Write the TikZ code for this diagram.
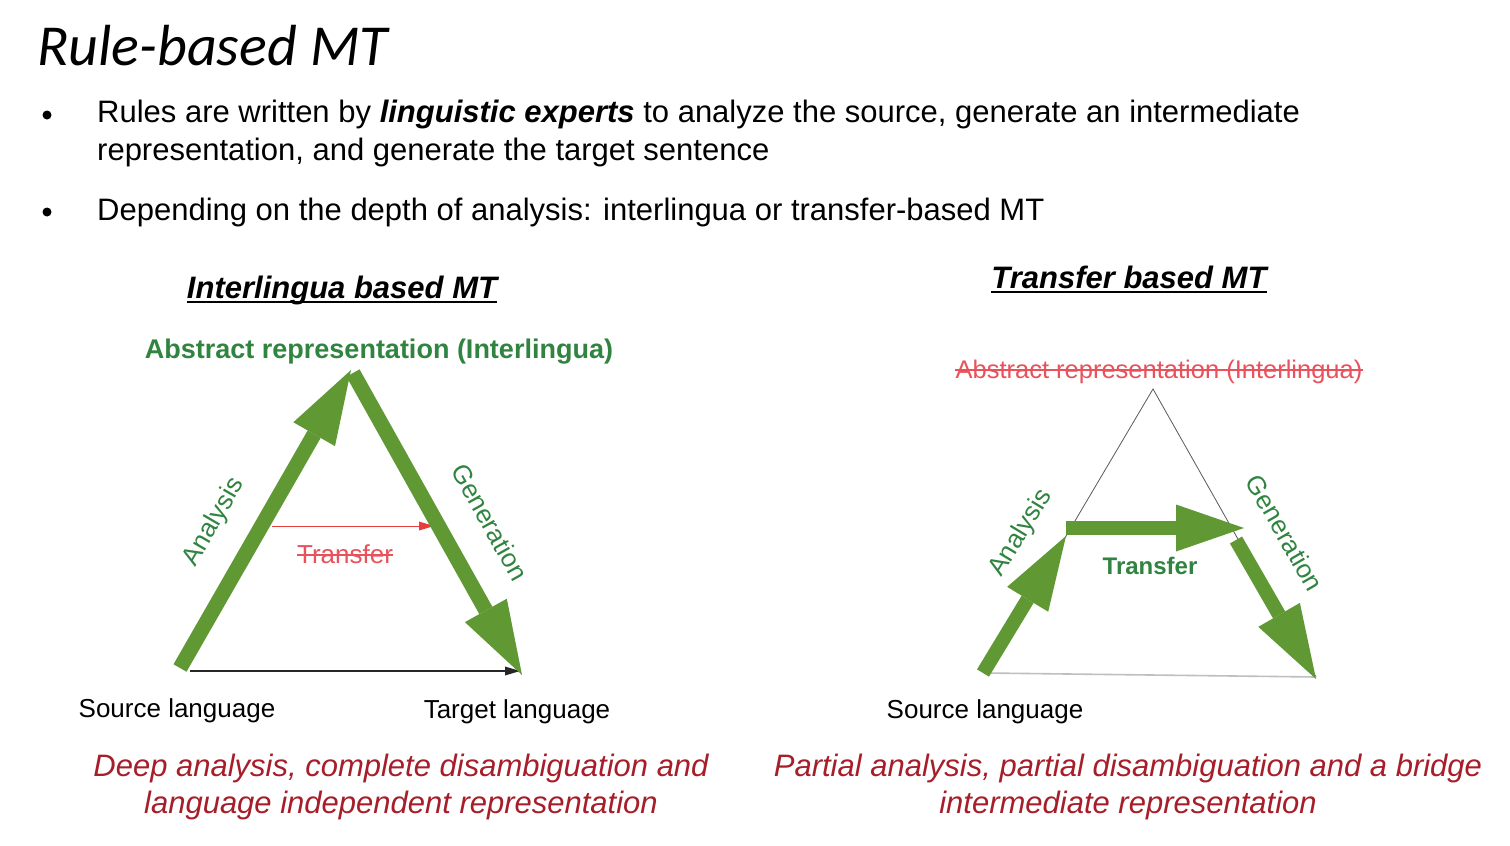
\documentclass[tikz,border=0pt]{standalone}
\usepackage{fontspec}
\setmainfont{Liberation Sans}
\newfontfamily\titlefont{Carlito}
\usetikzlibrary{arrows.meta, positioning, calc}

\definecolor{arrowgreen}{RGB}{96,152,52}
\definecolor{textgreen}{RGB}{48,132,64}
\definecolor{capred}{RGB}{166,30,42}
\definecolor{strikered}{RGB}{232,82,92}
\definecolor{arrowred}{RGB}{230,62,62}

\tikzset{
  txt/.style={inner sep=0pt, anchor=base},
  bigarrow/.style={draw=arrowgreen, line width=15pt,
    -{Triangle[width=48pt, length=74pt, line width=0pt]}},
  thinarrow/.style={line width=1.2pt, -{Triangle[width=9pt, length=15pt, line width=0pt]}},
  lbl/.style={inner sep=0pt, text=textgreen, font=\fontsize{26}{30}\selectfont},
  caption/.style={txt, text=capred, font=\fontsize{31}{36}\selectfont\itshape},
}

\begin{document}
\begin{tikzpicture}[x=1pt, y=-1pt]
  \fill[white] (0,0) rectangle (1510,846);
  \useasboundingbox (0,0) rectangle (1510,846);

  % title and bullets
  \node[txt, anchor=base west, font=\titlefont\fontsize{58}{64}\selectfont\itshape] (title) at (37,65) {Rule-based MT};
  \fill (47,115) circle (4.5pt) node (dot1) {};
  \fill (47,212) circle (4.5pt) node (dot2) {};
  \node[txt, anchor=base west, font=\fontsize{31}{38}\selectfont] (b1a) at (97,122)
    {Rules are written by \textbf{\textit{linguistic experts}} to analyze the source, generate an intermediate};
  \node[txt, anchor=base west, font=\fontsize{31}{38}\selectfont] (b1b) at (97,160)
    {representation, and generate the target sentence};
  \node[txt, anchor=base west, font=\fontsize{31}{38}\selectfont] (b2) at (97,220)
    {Depending on the depth of analysis: interlingua or transfer-based MT};

  % left: interlingua
  \node[txt, font=\fontsize{31}{36}\selectfont\bfseries\itshape] (ihead) at (342,298) {Interlingua based MT};
  \draw[line width=1.6pt] ($(ihead.base west)+(0,4)$) -- ($(ihead.base east)+(0,4)$);
  \node[txt, text=textgreen, font=\fontsize{27}{32}\selectfont\bfseries] (iabs) at (379,358) {Abstract representation (Interlingua)};
  \coordinate (lsrc) at (180,668);
  \coordinate (ltop) at (351,370);
  \coordinate (ltgt) at (522,675);
  \coordinate (lbase) at (190,671);
  \coordinate (lbend) at (520,671);
  \coordinate (lt1) at (272,526);
  \coordinate (lt2) at (434,526);
  \draw[thinarrow, draw=black!85] (lbase) -- (lbend);
  \draw[thinarrow, draw=arrowred, line width=1pt] (lt1) -- (lt2);
  \node[txt, text=strikered, font=\fontsize{26}{30}\selectfont] (ltrans) at (345,563) {Transfer};
  \draw[strikered, line width=1.2pt] ($(ltrans.base west)+(0,-8)$) -- ($(ltrans.base east)+(0,-8)$);
  \draw[bigarrow] (lsrc) -- (ltop);
  \draw[bigarrow] ($(ltop)+(2,3)$) -- (ltgt);
  \node[lbl, rotate=59.8] (lana) at (214,522) {Analysis};
  \node[lbl, rotate=-60.8] (lgen) at (490,522) {Generation};
  \node[txt, font=\fontsize{26}{30}\selectfont] (lsl) at (177,717) {Source language};
  \node[txt, font=\fontsize{26}{30}\selectfont] (ltl) at (517,718) {Target language};
  \node[caption] (lc1) at (401,776) {Deep analysis, complete disambiguation and};
  \node[caption] (lc2) at (401,813) {language independent representation};

  % right: transfer
  \node[txt, font=\fontsize{31}{36}\selectfont\bfseries\itshape] (thead) at (1129,288) {Transfer based MT};
  \draw[line width=1.6pt] ($(thead.base west)+(0,4)$) -- ($(thead.base east)+(0,4)$);
  \node[txt, text=strikered, font=\fontsize{25.5}{30}\selectfont] (tabs) at (1159,378) {Abstract representation (Interlingua)};
  \draw[strikered, line width=1.2pt] ($(tabs.base west)+(0,-8)$) -- ($(tabs.base east)+(0,-8)$);
  \coordinate (rtop) at (1153,389);
  \coordinate (rsrc) at (985,673);
  \coordinate (rtgt) at (1316,677);
  \draw[gray!70!black, line width=0.8pt] (rsrc) -- (rtop) -- (rtgt);
  \draw[gray!50, line width=1.6pt] (rsrc) -- (rtgt);
  \coordinate (ra1) at (983,673);
  \coordinate (ra2) at (1066,536);
  \coordinate (rt1) at (1066,528);
  \coordinate (rt2) at (1244,528);
  \coordinate (rg1) at (1236,540);
  \coordinate (rg2) at (1316,679);
  \draw[bigarrow, line width=14pt] (ra1) -- (ra2);
  \draw[bigarrow, line width=14pt, -{Triangle[width=47pt, length=68pt, line width=0pt]}] (rt1) -- (rt2);
  \draw[bigarrow, line width=14pt] (rg1) -- (rg2);
  \node[lbl, rotate=58.8] (rana) at (1021,533) {Analysis};
  \node[lbl, rotate=-60] (rgen) at (1285,533) {Generation};
  \node[txt, text=textgreen, font=\fontsize{24}{28}\selectfont\bfseries] (rtrans) at (1150,574) {Transfer};
  \node[txt, font=\fontsize{26}{30}\selectfont] (rsl) at (985,718) {Source language};
  \node[caption] (rc1) at (1128,776) {Partial analysis, partial disambiguation and a bridge};
  \node[caption] (rc2) at (1128,813) {intermediate representation};
\end{tikzpicture}
\end{document}
